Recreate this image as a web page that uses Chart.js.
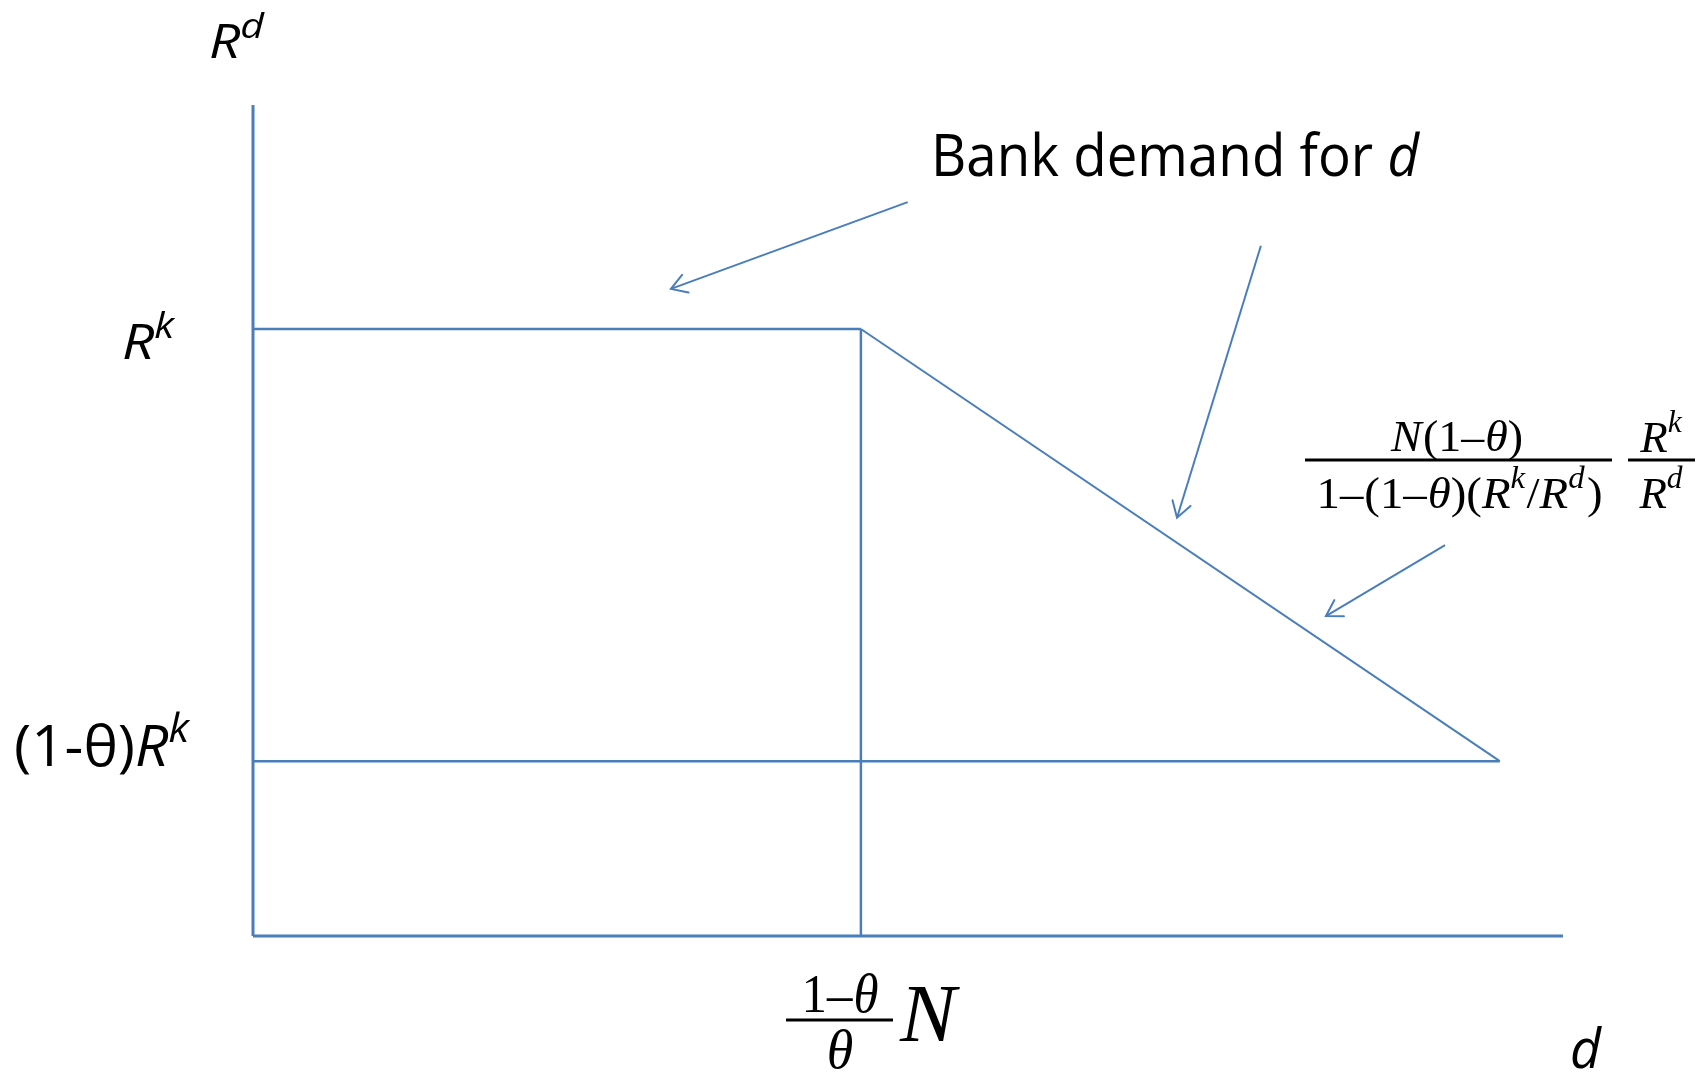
<!DOCTYPE html>
<html><head><meta charset="utf-8">
<script src="https://cdn.jsdelivr.net/npm/chart.js@4.4.1/dist/chart.umd.min.js"></script>
<style>html,body{margin:0;padding:0;background:#fff;}#wrap{width:1704px;height:1073px;position:relative;}</style>
</head><body><div id="wrap"><canvas id="c"></canvas></div>
<script>
// ---- data (model units: d on x, R^d on y; R^k = 1) ----
const kinkD = 1.0;        // (1-θ)/θ · N
const maxD = 2.051;       // end of the sloped demand
const Rk = 1.0;           // R^k
const lowR = 0.288;       // (1-θ)R^k
const yTop = 1.369;       // top of vertical axis
const xRight = 2.155;     // end of horizontal axis

const flatDemand   = [[0, Rk], [kinkD, Rk]];
const slopedDemand = [[kinkD, Rk], [maxD, lowR]];
const floorLine    = [[0, lowR], [maxD, lowR]];
const kinkDrop     = [[kinkD, Rk], [kinkD, 0]];
const axisYLine    = [[0, yTop], [0, 0]];
const axisXLine    = [[0, 0], [xRight, 0]];
const arrowTails   = [[1.077, 1.209], [1.658, 1.137], [1.961, 0.644]];
const arrowHeads   = [[0.6875, 1.066], [1.520, 0.689], [1.765, 0.527]];

const titleText = ['Bank demand for ', 'd'];
const yAxisTitle = ['R', 'd'];
const xAxisTitle = 'd';
const yTickLabels = [['R', 'k'], ['(1-θ)', 'R', 'k']];

// ---- styling ----
const BLUE = '#4A7EBB';
const SANS = '"Open Sans", "DejaVu Sans", sans-serif';
const SERIF = '"Liberation Serif", "Times New Roman", serif';

const pts = a => a.map(p => ({x: p[0], y: p[1]}));
function lineSet(arr, w) {
  return {data: pts(arr), showLine: true, borderColor: BLUE, backgroundColor: BLUE,
          borderWidth: w, pointRadius: 0, clip: false, tension: 0, borderCapStyle: 'butt'};
}
const datasets = [
  lineSet(axisYLine, 3), lineSet(axisXLine, 3),
  lineSet(flatDemand, 2.5), lineSet(kinkDrop, 2.5), lineSet(floorLine, 2.5), lineSet(slopedDemand, 2),
  ...arrowTails.map((t, i) => lineSet([t, arrowHeads[i]], 2))
];

function drawRich(ctx, runs, o) {
  const size = o.size, supK = o.supScale || 0.7, raise = o.supRaise || 0.42;
  const fontFor = r => `${r.it ? 'italic ' : ''}${r.sup ? (size * supK).toFixed(1) : size}px ${o.family}`;
  let w = 0; const ws = [];
  runs.forEach(r => { ctx.font = fontFor(r); const m = ctx.measureText(r.t).width + ((r.gap || 0) + (r.pre || 0)) * size; ws.push(m); w += m; });
  const hs = o.width ? o.width / w : 1;
  const x0 = o.align === 'center' ? o.x - w * hs / 2 : o.x;
  ctx.save(); ctx.translate(x0, o.y); ctx.scale(hs, 1);
  ctx.fillStyle = '#000'; ctx.textBaseline = 'alphabetic'; ctx.textAlign = 'left';
  let cx = 0;
  runs.forEach((r, i) => { ctx.font = fontFor(r); ctx.fillText(r.t, cx + (r.pre || 0) * size, r.sup ? -raise * size : 0); cx += ws[i]; });
  ctx.restore();
}

const arrowPlugin = {
  id: 'arrowheads',
  afterDatasetsDraw(chart) {
    const {ctx, scales: {x, y}} = chart;
    ctx.save(); ctx.strokeStyle = BLUE; ctx.lineWidth = 2; ctx.lineCap = 'round';
    arrowHeads.forEach((h, i) => {
      const t = arrowTails[i];
      const hx = x.getPixelForValue(h[0]), hy = y.getPixelForValue(h[1]);
      const tx = x.getPixelForValue(t[0]), ty = y.getPixelForValue(t[1]);
      const ang = Math.atan2(ty - hy, tx - hx), L = 18, spread = 0.55;
      ctx.beginPath();
      ctx.moveTo(hx + L * Math.cos(ang + spread), hy + L * Math.sin(ang + spread));
      ctx.lineTo(hx, hy);
      ctx.lineTo(hx + L * Math.cos(ang - spread), hy + L * Math.sin(ang - spread));
      ctx.stroke();
    });
    ctx.restore();
  }
};

const labelPlugin = {
  id: 'labels',
  afterDraw(chart) {
    const ctx = chart.ctx;
    // sans labels
    drawRich(ctx, [{t: yAxisTitle[0], it: true}, {t: yAxisTitle[1], it: true, sup: true}],
      {family: SANS, size: 47, x: 209, y: 58, width: 55, supScale: 0.75, supRaise: 0.42});
    drawRich(ctx, [{t: yTickLabels[0][0], it: true}, {t: yTickLabels[0][1], it: true, sup: true}],
      {family: SANS, size: 50, x: 122, y: 359, width: 52, supScale: 0.72, supRaise: 0.42});
    drawRich(ctx, [{t: yTickLabels[1][0]}, {t: yTickLabels[1][1], it: true}, {t: yTickLabels[1][2], it: true, sup: true}],
      {family: SANS, size: 56, x: 14, y: 766, width: 175, supScale: 0.72, supRaise: 0.42});
    drawRich(ctx, [{t: titleText[0]}, {t: titleText[1], it: true}],
      {family: SANS, size: 58, x: 931, y: 176, width: 488});
    drawRich(ctx, [{t: xAxisTitle, it: true}],
      {family: SANS, size: 55, x: 1570, y: 1068, width: 31});
    // serif math: kink location
    drawRich(ctx, [{t: '1'}, {t: '–', gap: 0.02}, {t: 'θ', it: true}],
      {family: SERIF, size: 54, x: 840, y: 1012, align: 'center', width: 77});
    ctx.fillStyle = '#000'; ctx.fillRect(786, 1018.5, 107, 3);
    drawRich(ctx, [{t: 'θ', it: true}], {family: SERIF, size: 54, x: 840, y: 1068, align: 'center'});
    drawRich(ctx, [{t: 'N', it: true}], {family: SERIF, size: 82, x: 900, y: 1041, width: 56});
    // serif math: slope formula
    drawRich(ctx, [{t: 'N', it: true}, {t: '(1', pre: 0.03}, {t: '–', gap: 0.02}, {t: 'θ', it: true}, {t: ')'}],
      {family: SERIF, size: 44, x: 1457, y: 451, align: 'center', width: 132});
    ctx.fillStyle = '#000'; ctx.fillRect(1305, 458.5, 307, 3);
    drawRich(ctx, [{t: '1'}, {t: '–', gap: 0.02}, {t: '(1'}, {t: '–', gap: 0.02}, {t: 'θ', it: true}, {t: ')('},
                   {t: 'R', it: true}, {t: 'k', it: true, sup: true, gap: 0.03}, {t: '/'}, {t: 'R', it: true},
                   {t: 'd', it: true, sup: true, gap: 0.05}, {t: ')'}],
      {family: SERIF, size: 44, x: 1459.5, y: 508, align: 'center', width: 286, supScale: 0.7, supRaise: 0.45});
    ctx.fillStyle = '#000'; ctx.fillRect(1628, 458.5, 67, 3);
    drawRich(ctx, [{t: 'R', it: true}, {t: 'k', it: true, sup: true}],
      {family: SERIF, size: 45, x: 1661, y: 452, align: 'center', supScale: 0.7, supRaise: 0.45});
    drawRich(ctx, [{t: 'R', it: true}, {t: 'd', it: true, sup: true}],
      {family: SERIF, size: 45, x: 1661, y: 508, align: 'center', supScale: 0.7, supRaise: 0.45});
  }
};

new Chart(document.getElementById('c'), {
  type: 'scatter',
  data: {datasets},
  options: {
    responsive: true, maintainAspectRatio: false, animation: false, devicePixelRatio: 1,
    layout: {padding: {left: 253, right: 141, top: 105, bottom: 137}},
    plugins: {legend: {display: false}, tooltip: {enabled: false}},
    scales: {
      x: {type: 'linear', min: 0, max: xRight, display: false},
      y: {type: 'linear', min: 0, max: yTop, display: false}
    }
  },
  plugins: [arrowPlugin, labelPlugin]
});
</script></body></html>
